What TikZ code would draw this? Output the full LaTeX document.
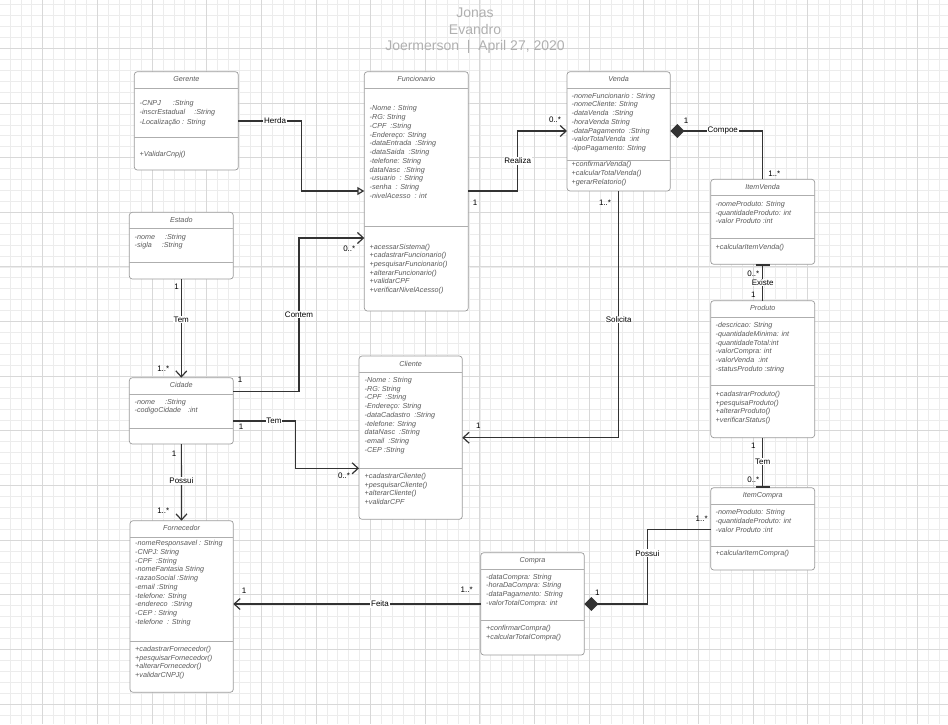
\documentclass[tikz,border=0pt]{standalone}
\usepackage{fontspec}
\setmainfont{Liberation Sans}
\usepackage{tikz}
\usetikzlibrary{arrows.meta}

\definecolor{cMinor}{HTML}{ECECEC}
\definecolor{cMajor}{HTML}{D8D8D8}
\definecolor{cBox}{HTML}{9A9A9A}
\definecolor{cText}{HTML}{5A5A5A}
\definecolor{cLine}{HTML}{333333}
\definecolor{cHead}{HTML}{B0B0B0}

\tikzset{
  gridminor/.style={cMinor, line width=0.6pt},
  gridmajor/.style={cMajor, line width=0.8pt},
  classbox/.style={draw=cBox, fill=white, line width=0.7pt, rounded corners=3pt,
    anchor=north west, inner sep=0pt, outer sep=0pt},
  sepline/.style={cBox!80, line width=1pt},
  classname/.style={anchor=base, inner sep=0pt, text=cText,
    font=\fontsize{7.2}{8.8}\selectfont\itshape},
  member/.style={anchor=base west, inner sep=0pt, text=cText,
    font=\fontsize{7.2}{8.8}\selectfont\itshape},
  assoc/.style={cLine, line width=1.2pt, -{Straight Barb[length=6pt,width=11pt]}},
  inherit/.style={cLine, line width=1.2pt, -{Triangle[open,length=7pt,width=8pt]}},
  compose/.style={cLine, line width=1.2pt, {Diamond[length=14pt,width=14pt]}-},
  barend/.style={cLine, line width=1.2pt, -{Bar[width=14pt,line width=1.8pt]}},
  lbl/.style={fill=white, inner sep=0.8pt, text=black, font=\fontsize{8}{9}\selectfont},
  mult/.style={inner sep=0pt, text=black, font=\fontsize{8}{9}\selectfont},
  headtxt/.style={text=cHead, inner sep=0pt, font=\fontsize{14}{16}\selectfont}
}

% box, separators and class name
\newcommand{\umlclass}[7]{%
  \node[classbox, minimum width=#4pt, minimum height=#5pt] (#1) at (#2,#3) {};
  \draw[sepline] ([yshift=-16.5pt]#1.north west) -- ([yshift=-16.5pt]#1.north east);
  \draw[sepline] ([yshift=-#7pt]#1.north west) -- ([yshift=-#7pt]#1.north east);
  \node[classname] (#1-name) at ([yshift=-10.2pt]#1.north) {#6};
}

\begin{document}
\begin{tikzpicture}[x=1pt,y=-1pt]
\useasboundingbox (0,0) rectangle (948,724);

% background grid
\begin{scope}
\clip (0,0) rectangle (948,724);
\foreach \k in {-4,...,83}
  \draw[gridminor] ({42.7+10.928*\k},0) -- ++(0,724);
\foreach \k in {-5,...,62}
  \draw[gridminor] (0,{48.3+10.928*\k}) -- ++(948,0);
\foreach \k in {-1,...,16}
  \draw[gridmajor] ({42.7+54.64*\k},0) -- ++(0,724);
\foreach \k in {-1,...,13}
  \draw[gridmajor] (0,{48.3+54.64*\k}) -- ++(948,0);
\end{scope}

\node[headtxt] (hdr1) at (475,12.3) {Jonas};
\node[headtxt] (hdr2) at (475,29.8) {Evandro};
\node[headtxt] (hdr3) at (475,46.5) {Joermerson\ \ |\ \ April 27, 2020};

% classes
\umlclass{gerente}{134.3}{71.7}{104}{98.3}{Gerente}{65.3}
\foreach \t [count=\i from 0] in {-CNPJ\hspace{12pt}:String, -inscrEstadual\hspace{9pt}:String, -Localização : String}
  \node[member] (gerente-a\i) at (139.5,{105.4+9.3*\i}) {\t};
\node[member] (gerente-m0) at (139.5,156.1) {+ValidarCnpj()};

\umlclass{funcionario}{364.3}{71.7}{104}{239.3}{Funcionario}{155}
\foreach \t [count=\i from 0] in {-Nome : String, -RG: String, -CPF\ \ :String, -Endereço: String,
  -dataEntrada\ \ :String, -dataSaida\ \ :String, -telefone: String, dataNasc\ \ :String,
  -usuario\ \ : String, -senha\ \ : String, -nivelAcesso\ \ : int}
  \node[member] (funcionario-a\i) at (369.5,{110.7+8.77*\i}) {\t};
\foreach \t [count=\i from 0] in {+acessarSistema(), +cadastrarFuncionario(), +pesquisarFuncionario(),
  +alterarFuncionario(), +validarCPF, +verificarNivelAcesso()}
  \node[member] (funcionario-m\i) at (369.5,{249.1+8.72*\i}) {\t};

\umlclass{venda}{567}{71.7}{103.3}{119.3}{Venda}{88.3}
\foreach \t [count=\i from 0] in {-nomeFuncionario : String, -nomeCliente: String, -dataVenda\ \ :String,
  -horaVenda String, -dataPagamento\ \ :String, -valorTotalVenda\ \ :int, -tipoPagamento: String}
  \node[member] (venda-a\i) at (571.5,{98.1+8.77*\i}) {\t};
\foreach \t [count=\i from 0] in {+confirmarVenda(), +calcularTotalVenda(), +gerarRelatorio()}
  \node[member] (venda-m\i) at (571.5,{166.4+9*\i}) {\t};

\umlclass{itemvenda}{710.7}{179.3}{104}{85}{ItemVenda}{59}
\foreach \t [count=\i from 0] in {-nomeProduto: String, -quantidadeProduto: int, -valor Produto :int}
  \node[member] (itemvenda-a\i) at (715.5,{206.7+8.5*\i}) {\t};
\node[member] (itemvenda-m0) at (715.5,249.1) {+calcularItemVenda()};

\umlclass{produto}{710.7}{300.7}{104}{137}{Produto}{84.3}
\foreach \t [count=\i from 0] in {-descricao: String, -quantidadeMinima: int, -quantidadeTotal:int,
  -valorCompra: int, -valorVenda\ \ :int, -statusProduto :string}
  \node[member] (produto-a\i) at (715.5,{327.4+8.8*\i}) {\t};
\foreach \t [count=\i from 0] in {+cadastrarProduto(), +pesquisaProduto(), +alterarProduto(), +verificarStatus()}
  \node[member] (produto-m\i) at (715.5,{396.4+8.77*\i}) {\t};

\umlclass{itemcompra}{710.7}{487.7}{104}{82.3}{ItemCompra}{59}
\foreach \t [count=\i from 0] in {-nomeProduto: String, -quantidadeProduto: int, -valor Produto :int}
  \node[member] (itemcompra-a\i) at (715.5,{514.4+8.85*\i}) {\t};
\node[member] (itemcompra-m0) at (715.5,555.7) {+calcularItemCompra()};

\umlclass{estado}{129.3}{212.3}{104}{66.7}{Estado}{50}
\foreach \t [count=\i from 0] in {-nome\hspace{10pt}:String, -sigla\hspace{10pt}:String}
  \node[member] (estado-a\i) at (134.5,{239.1+8.6*\i}) {\t};

\umlclass{cidade}{129.3}{377.7}{104}{66.3}{Cidade}{50.6}
\foreach \t [count=\i from 0] in {-nome\hspace{10pt}:String, -codigoCidade\hspace{7pt}:int}
  \node[member] (cidade-a\i) at (134.5,{404.1+8.6*\i}) {\t};

\umlclass{cliente}{359}{356}{103.3}{163.3}{Cliente}{112.3}
\foreach \t [count=\i from 0] in {-Nome : String, -RG: String, -CPF\ \ :String, -Endereço: String,
  -dataCadastro\ \ :String, -telefone: String, dataNasc\ \ :String, -email\ \ :String, -CEP :String}
  \node[member] (cliente-a\i) at (364.5,{382.4+8.75*\i}) {\t};
\foreach \t [count=\i from 0] in {+cadastrarCliente(), +pesquisarCliente(), +alterarCliente(), +validarCPF}
  \node[member] (cliente-m\i) at (364.5,{478.4+8.77*\i}) {\t};

\umlclass{fornecedor}{130}{520.7}{103.3}{171.6}{Fornecedor}{120.3}
\foreach \t [count=\i from 0] in {-nomeResponsavel : String, -CNPJ: String, -CPF\ \ :String,
  -nomeFantasia String, -razaoSocial :String, -email :String, -telefone: String,
  -endereco\ \ :String, -CEP : String, -telefone\ \ : String}
  \node[member] (fornecedor-a\i) at (135,{545.7+8.74*\i}) {\t};
\foreach \t [count=\i from 0] in {+cadastrarFornecedor(), +pesquisarFornecedor(), +alterarFornecedor(), +validarCNPJ()}
  \node[member] (fornecedor-m\i) at (135,{651.4+8.67*\i}) {\t};

\umlclass{compra}{480.7}{552.7}{103.6}{102.3}{Compra}{68}
\foreach \t [count=\i from 0] in {-dataCompra: String, -horaDaCompra: String, -dataPagamento: String, -valorTotalCompra: int}
  \node[member] (compra-a\i) at (486,{579.1+8.87*\i}) {\t};
\foreach \t [count=\i from 0] in {+confirmarCompra(), +calcularTotalCompra()}
  \node[member] (compra-m\i) at (486,{630.1+9*\i}) {\t};

% connectors
\draw[inherit] ([yshift=-49.3pt]gerente.north east) -- node[lbl,pos=0.58] {Herda} ++(63.4,0)
  |- ([yshift=-119.3pt]funcionario.north west);
\draw[assoc] ([yshift=-14pt]cidade.north east) -- ++(65.7,0)
  |- node[lbl,pos=0.25] {Contem} ([yshift=-166.3pt]funcionario.north west);
\draw[assoc] (estado) -- node[lbl,pos=0.41] {Tem} (cidade);
\draw[assoc] ([yshift=-43.3pt]cidade.north east) -- node[lbl,pos=0.65] {Tem} ++(62.4,0)
  |- ([yshift=-112.3pt]cliente.north west);
\draw[assoc] (cidade) -- node[lbl,pos=0.48] {Possui} (fornecedor);
\draw[assoc] ([yshift=-119.3pt]funcionario.north east) -- ++(49.4,0)
  |- node[lbl,pos=0.25] {Realiza} ([yshift=-59.3pt]venda.north west);
\draw[assoc] (venda.south) |- node[lbl,pos=0.26] {Solicita} ([yshift=-81.7pt]cliente.north east);
\draw[compose] ([yshift=-59.3pt]venda.north east) -| node[lbl,pos=0.284] {Compoe} (itemvenda.north);
\draw[barend] (produto.north) -- node[lbl,pos=0.5] {Existe} (itemvenda.south);
\draw[barend] (produto.south) -- node[lbl,pos=0.48] {Tem} (itemcompra.north);
\draw[compose] ([yshift=-51.3pt]compra.north east) -- ++(63,0)
  |- node[lbl,pos=0.34] {Possui} ([yshift=-41.6pt]itemcompra.north west);
\draw[assoc] ([yshift=-51.3pt]compra.north west) -- node[lbl,pos=0.407] {Feita}
  ([yshift=-83.3pt]fornecedor.north east);

% multiplicities
\node[mult] (m1) at (240,379.3) {1};
\node[mult] (m2) at (349.3,248.3) {0..*};
\node[mult] (m3) at (176.7,286.7) {1};
\node[mult] (m4) at (163.3,368.3) {1..*};
\node[mult] (m5) at (241,426.7) {1};
\node[mult] (m6) at (344,476) {0..*};
\node[mult] (m7) at (174,454) {1};
\node[mult] (m8) at (163.3,510.7) {1..*};
\node[mult] (m9) at (475,202.7) {1};
\node[mult] (m10) at (555,119.3) {0..*};
\node[mult] (m11) at (605,202.7) {1..*};
\node[mult] (m12) at (478.3,426) {1};
\node[mult] (m13) at (686,120.7) {1};
\node[mult] (m14) at (774.3,174) {1..*};
\node[mult] (m15) at (753.3,274) {0..*};
\node[mult] (m16) at (753.3,294.3) {1};
\node[mult] (m17) at (753.3,446) {1};
\node[mult] (m18) at (753.3,480) {0..*};
\node[mult] (m19) at (597.3,592.7) {1};
\node[mult] (m20) at (701.7,519) {1..*};
\node[mult] (m21) at (244,591) {1};
\node[mult] (m22) at (466.7,589.3) {1..*};
\end{tikzpicture}
\end{document}
